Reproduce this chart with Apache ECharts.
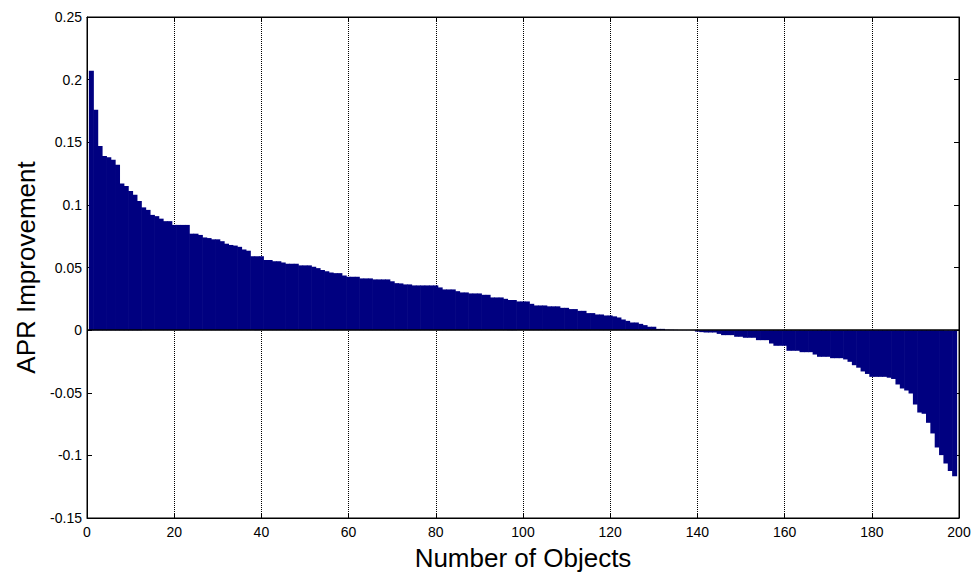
<!DOCTYPE html>
<html>
<head>
<meta charset="utf-8">
<script src="https://cdn.jsdelivr.net/npm/echarts@6/dist/echarts.min.js"></script>
<style>
	html, body { margin: 0; padding: 0; background: #fff; }
	#chart { width: 974px; height: 577px; }
</style>
</head>
<body>
<div id="chart"></div>
<script>
// APR improvement per object, sorted (objects 1..199)
const improvement = [
	0.207, 0.176, 0.147, 0.139, 0.138, 0.136, 0.132, 0.117, 0.115, 0.111,
	0.108, 0.103, 0.098, 0.096, 0.092, 0.091, 0.089, 0.087, 0.087, 0.084,
	0.084, 0.084, 0.084, 0.077, 0.077, 0.076, 0.074, 0.0735, 0.0725, 0.0725,
	0.071, 0.069, 0.068, 0.0675, 0.0665, 0.0644, 0.0634, 0.059, 0.059, 0.059,
	0.056, 0.056, 0.055, 0.055, 0.054, 0.053, 0.053, 0.053, 0.0517, 0.0517,
	0.0517, 0.0506, 0.0495, 0.048, 0.047, 0.046, 0.0455, 0.0455, 0.0436, 0.0426,
	0.0426, 0.0426, 0.0413, 0.0413, 0.0413, 0.0405, 0.0405, 0.0405, 0.0405, 0.039,
	0.0375, 0.0373, 0.0365, 0.0365, 0.0357, 0.0357, 0.0357, 0.0357, 0.0357, 0.0357,
	0.0341, 0.0325, 0.0325, 0.0325, 0.0311, 0.0301, 0.0301, 0.0293, 0.0293, 0.0293,
	0.0282, 0.0282, 0.0261, 0.0261, 0.0261, 0.025, 0.024, 0.024, 0.0229, 0.0229,
	0.0229, 0.021, 0.0197, 0.0197, 0.0197, 0.019, 0.019, 0.019, 0.0178, 0.0178,
	0.0168, 0.0168, 0.0154, 0.0154, 0.0136, 0.0136, 0.0125, 0.0125, 0.0117, 0.0117,
	0.011, 0.0101, 0.0085, 0.0074, 0.0061, 0.0061, 0.005, 0.004, 0.0027, 0.0027,
	0.001, 0.001, 0.0004, 0.0003, 0.0002, 0.0001, 0.0001, -0.0001, -0.0002, -0.0012,
	-0.0016, -0.0019, -0.0019, -0.0019, -0.003, -0.004, -0.004, -0.004, -0.0053, -0.0053,
	-0.0061, -0.0061, -0.0061, -0.008, -0.008, -0.008, -0.0107, -0.0125, -0.0125, -0.0125,
	-0.0165, -0.0165, -0.0165, -0.0176, -0.0176, -0.0176, -0.0195, -0.0213, -0.0213, -0.0213,
	-0.0224, -0.0224, -0.0224, -0.0234, -0.0253, -0.028, -0.030, -0.033, -0.035, -0.0373,
	-0.0373, -0.0373, -0.0373, -0.038, -0.039, -0.0434, -0.0466, -0.0482, -0.0506, -0.0594,
	-0.0658, -0.0668, -0.074, -0.0825, -0.0937, -0.0998, -0.1065, -0.1124, -0.1166
];
const xTicks = [0, 20, 40, 60, 80, 100, 120, 140, 160, 180, 200];
const yTicks = [-0.15, -0.1, -0.05, 0, 0.05, 0.1, 0.15, 0.2, 0.25];

const tickFont = { fontFamily: 'Liberation Sans, Arial, sans-serif', fontSize: 14, color: '#000' };
const nameFont = { fontFamily: 'Liberation Sans, Arial, sans-serif', fontSize: 26, color: '#000' };

var chartDom = document.getElementById('chart');
var myChart = echarts.init(chartDom, null, { renderer: 'svg' });

const data = improvement.map((v, i) => [i + 1, v]);

var option = {
	animation: false,
	grid: {
		left: 87, right: 15, top: 17, bottom: 59,
		show: true, borderColor: '#000', borderWidth: 1
	},
	xAxis: [
		{
			type: 'value',
			min: xTicks[0], max: xTicks[xTicks.length - 1], interval: 20,
			position: 'bottom',
			axisLine: { onZero: false, lineStyle: { color: '#000' } },
			axisTick: { inside: true, length: 5, lineStyle: { color: '#000' } },
			axisLabel: Object.assign({ margin: 7 }, tickFont),
			splitLine: { show: true, lineStyle: { type: 'dotted', color: '#000', width: 1 } },
			name: 'Number of Objects',
			nameLocation: 'middle',
			nameGap: 27,
			nameTextStyle: nameFont
		},
		{
			type: 'value',
			min: xTicks[0], max: xTicks[xTicks.length - 1], interval: 20,
			position: 'top',
			axisLine: { onZero: false, lineStyle: { color: '#000' } },
			axisTick: { inside: true, length: 5, lineStyle: { color: '#000' } },
			axisLabel: { show: false },
			splitLine: { show: false }
		}
	],
	yAxis: [
		{
			type: 'value',
			min: yTicks[0], max: yTicks[yTicks.length - 1], interval: 0.05,
			position: 'left',
			axisLine: { show: true, onZero: false, lineStyle: { color: '#000' } },
			axisTick: { show: true, inside: true, length: 5, lineStyle: { color: '#000' } },
			axisLabel: Object.assign({
				margin: 5,
				formatter: v => String(parseFloat(v.toFixed(2)))
			}, tickFont),
			splitLine: { show: false },
			name: 'APR Improvement',
			nameLocation: 'middle',
			nameGap: 42,
			nameTextStyle: nameFont
		},
		{
			type: 'value',
			min: yTicks[0], max: yTicks[yTicks.length - 1], interval: 0.05,
			position: 'right',
			axisLine: { show: true, onZero: false, lineStyle: { color: '#000' } },
			axisTick: { show: true, inside: true, length: 5, lineStyle: { color: '#000' } },
			axisLabel: { show: false },
			splitLine: { show: false }
		}
	],
	series: [
		{
			type: 'bar',
			xAxisIndex: 0,
			yAxisIndex: 0,
			data: data,
			barWidth: 5,
			itemStyle: { color: '#000080', borderWidth: 0 },
			markLine: {
				silent: true,
				symbol: ['none', 'none'],
				label: { show: false },
				lineStyle: { color: '#000', type: 'solid', width: 1.5 },
				data: [{ yAxis: 0 }]
			}
		}
	]
};

option && myChart.setOption(option);
</script>
</body>
</html>
